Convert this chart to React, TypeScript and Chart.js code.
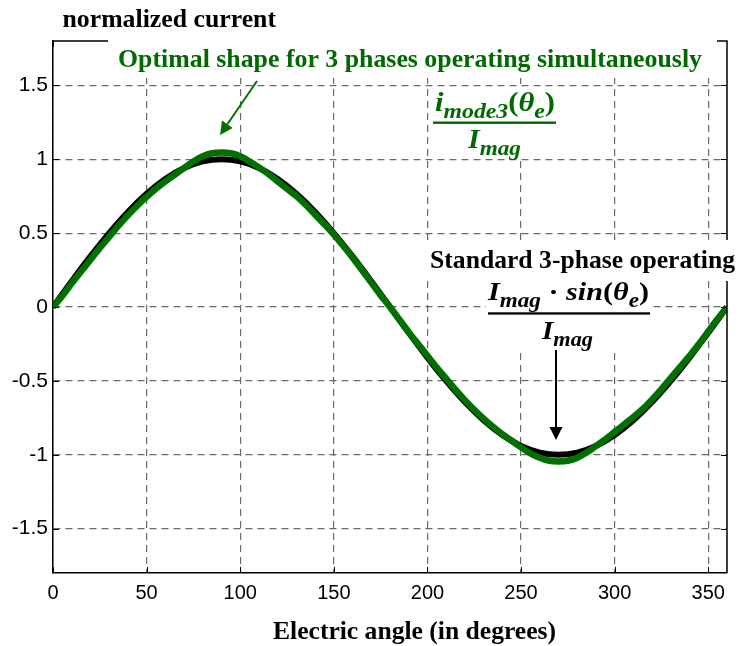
import React, { useEffect, useRef } from 'react';
import { Chart, registerables } from 'chart.js';

Chart.register(...registerables);

// ---- data ----
const standardAngles = [0, 10, 20, 30, 40, 50, 60, 70, 80, 90, 100, 110, 120, 130, 140, 150, 160, 170, 180, 190, 200, 210, 220, 230, 240, 250, 260, 270, 280, 290, 300, 310, 320, 330, 340, 350, 360];
const standardCurrent = [0, 0.174, 0.342, 0.5, 0.643, 0.766, 0.866, 0.94, 0.985, 1, 0.985, 0.94, 0.866, 0.766, 0.643, 0.5, 0.342, 0.174, 0, -0.174, -0.342, -0.5, -0.643, -0.766, -0.866, -0.94, -0.985, -1, -0.985, -0.94, -0.866, -0.766, -0.643, -0.5, -0.342, -0.174, 0];

const optimalAngles = [0, 5, 10, 15, 20, 25, 30, 35, 40, 45, 50, 55, 60, 65, 70, 75, 80, 85, 90, 95, 100, 105, 110, 115, 120, 125, 130, 135, 140, 145, 150, 155, 160, 165, 170, 175, 180, 185, 190, 195, 200, 205, 210, 215, 220, 225, 230, 235, 240, 245, 250, 255, 260, 265, 270, 275, 280, 285, 290, 295, 300, 305, 310, 315, 320, 325, 330, 335, 340, 345, 350, 355, 360];
const optimalCurrent = [0, 0.075, 0.16, 0.24, 0.32, 0.4, 0.475, 0.55, 0.62, 0.685, 0.745, 0.8, 0.85, 0.895, 0.94, 0.985, 1.02, 1.04, 1.045, 1.04, 1.02, 0.985, 0.945, 0.9, 0.85, 0.8, 0.75, 0.69, 0.625, 0.56, 0.49, 0.415, 0.335, 0.25, 0.165, 0.08, 0, -0.085, -0.17, -0.25, -0.33, -0.41, -0.485, -0.56, -0.63, -0.695, -0.755, -0.81, -0.86, -0.905, -0.95, -0.99, -1.02, -1.04, -1.045, -1.04, -1.02, -0.985, -0.94, -0.895, -0.845, -0.795, -0.745, -0.69, -0.625, -0.555, -0.48, -0.405, -0.33, -0.25, -0.165, -0.08, 0];

const xTickValues = [0, 50, 100, 150, 200, 250, 300, 350];
const yTickValues = [-1.5, -1, -0.5, 0, 0.5, 1, 1.5];

const GREEN = 'rgb(0,112,0)';
const GREEN_TEXT = 'rgb(0,105,0)';
const SERIF = '"Liberation Serif", "Times New Roman", serif';
const SANS = '"Liberation Sans", Arial, sans-serif';

type Seg = { t: string; sub?: boolean; upright?: boolean };

function fitText(ctx: CanvasRenderingContext2D, text: string, x: number, baseline: number, width: number, font: string, color: string) {
  ctx.save();
  ctx.font = font;
  ctx.fillStyle = color;
  ctx.textAlign = 'left';
  ctx.textBaseline = 'alphabetic';
  const w = ctx.measureText(text).width;
  ctx.translate(x, baseline);
  ctx.scale(width / w, 1);
  ctx.fillText(text, 0, 0);
  ctx.restore();
}

function drawMath(ctx: CanvasRenderingContext2D, segs: Seg[], x: number, baseline: number, width: number, size: number, color: string) {
  const sub = Math.round(size * 0.76);
  const fontFor = (s: Seg) => `${s.upright ? '' : 'italic '}bold ${s.sub ? sub : size}px ${SERIF}`;
  ctx.save();
  ctx.fillStyle = color;
  ctx.textAlign = 'left';
  ctx.textBaseline = 'alphabetic';
  let total = 0;
  const widths = segs.map((s) => {
    ctx.font = fontFor(s);
    const w = ctx.measureText(s.t).width;
    total += w;
    return w;
  });
  ctx.translate(x, baseline);
  ctx.scale(width / total, 1);
  let cx = 0;
  segs.forEach((s, i) => {
    ctx.font = fontFor(s);
    ctx.fillText(s.t, cx, s.sub ? size * 0.25 : 0);
    cx += widths[i];
  });
  ctx.restore();
}

function arrow(ctx: CanvasRenderingContext2D, x1: number, y1: number, x2: number, y2: number, color: string) {
  const ang = Math.atan2(y2 - y1, x2 - x1);
  const hl = 13;
  const hw = 6.5;
  const bx = x2 - hl * Math.cos(ang);
  const by = y2 - hl * Math.sin(ang);
  ctx.save();
  ctx.strokeStyle = color;
  ctx.fillStyle = color;
  ctx.lineWidth = 2;
  ctx.beginPath();
  ctx.moveTo(x1, y1);
  ctx.lineTo(bx, by);
  ctx.stroke();
  ctx.beginPath();
  ctx.moveTo(x2, y2);
  ctx.lineTo(bx + hw * Math.sin(ang), by - hw * Math.cos(ang));
  ctx.lineTo(bx - hw * Math.sin(ang), by + hw * Math.cos(ang));
  ctx.closePath();
  ctx.fill();
  ctx.restore();
}

const overlayPlugin = {
  id: 'overlay',
  afterDraw(chart: any) {
    const ctx: CanvasRenderingContext2D = chart.ctx;
    const { left, right, top, bottom } = chart.chartArea;
    const xs = chart.scales.x;
    const ys = chart.scales.y;
    ctx.save();
    // top & right border
    ctx.strokeStyle = '#000';
    ctx.lineWidth = 1.5;
    ctx.beginPath();
    ctx.moveTo(left, top);
    ctx.lineTo(right, top);
    ctx.lineTo(right, bottom);
    ctx.stroke();
    // inward ticks
    ctx.lineWidth = 1;
    const tl = 6;
    ctx.beginPath();
    xTickValues.forEach((v) => {
      const px = Math.round(xs.getPixelForValue(v)) + 0.5;
      ctx.moveTo(px, bottom);
      ctx.lineTo(px, bottom - tl);
      ctx.moveTo(px, top);
      ctx.lineTo(px, top + tl);
    });
    yTickValues.forEach((v) => {
      const py = Math.round(ys.getPixelForValue(v)) + 0.5;
      ctx.moveTo(left, py);
      ctx.lineTo(left + tl, py);
      ctx.moveTo(right, py);
      ctx.lineTo(right - tl, py);
    });
    ctx.stroke();

    // white label boxes
    ctx.fillStyle = '#fff';
    ctx.fillRect(108, 36, 609, 42);
    ctx.fillRect(431, 88, 127, 69);
    ctx.fillRect(424, 240, 316, 41);
    ctx.fillRect(486, 281, 166, 67);
    ctx.restore();

    // titles
    fitText(ctx, 'normalized current', 62.5, 27, 213.5, `bold 26px ${SERIF}`, '#000');
    fitText(ctx, 'Optimal shape for 3 phases operating simultaneously', 118, 67, 584, `bold 26px ${SERIF}`, GREEN_TEXT);
    fitText(ctx, 'Standard 3-phase operating', 430, 268, 305, `bold 26px ${SERIF}`, '#000');
    fitText(ctx, 'Electric angle (in degrees)', 273, 639, 283, `bold 26px ${SERIF}`, '#000');

    // green fraction
    drawMath(ctx, [{ t: 'i' }, { t: 'mode3', sub: true }, { t: '(', upright: true }, { t: 'θ' }, { t: 'e', sub: true }, { t: ')', upright: true }], 435, 111, 120, 27, GREEN_TEXT);
    ctx.save();
    ctx.fillStyle = GREEN_TEXT;
    ctx.fillRect(433, 121.5, 123, 2.4);
    ctx.restore();
    drawMath(ctx, [{ t: 'I' }, { t: 'mag', sub: true }], 468, 148, 53, 27, GREEN_TEXT);

    // black fraction
    drawMath(ctx, [{ t: 'I' }, { t: 'mag', sub: true }, { t: ' · ', upright: true }, { t: 'sin' }, { t: '(', upright: true }, { t: 'θ' }, { t: 'e', sub: true }, { t: ')', upright: true }], 488, 300, 161, 26, '#000');
    ctx.save();
    ctx.fillStyle = '#000';
    ctx.fillRect(488, 312.3, 162, 2.3);
    ctx.restore();
    drawMath(ctx, [{ t: 'I' }, { t: 'mag', sub: true }], 542, 339, 51, 26, '#000');

    // arrows
    arrow(ctx, 257, 81, 220, 135, GREEN);
    arrow(ctx, 556, 350, 556, 440, '#000');
  },
};

export default function App() {
  const canvasRef = useRef<HTMLCanvasElement | null>(null);

  useEffect(() => {
    const canvas = canvasRef.current;
    if (!canvas) return;
    const chart = new Chart(canvas, {
      type: 'line',
      data: {
        datasets: [
          {
            label: 'optimal',
            data: optimalAngles.map((a, i) => ({ x: a, y: optimalCurrent[i] })),
            borderColor: GREEN,
            borderWidth: 6.5,
            pointRadius: 0,
            tension: 0.3,
            fill: false,
          },
          {
            label: 'standard',
            data: standardAngles.map((a, i) => ({ x: a, y: standardCurrent[i] })),
            borderColor: '#000',
            borderWidth: 6,
            pointRadius: 0,
            tension: 0.4,
            fill: false,
          },
        ],
      },
      options: {
        responsive: false,
        animation: false,
        events: [],
        layout: { padding: { top: 41, right: 13, left: 0, bottom: 0 } },
        plugins: { legend: { display: false }, tooltip: { enabled: false }, title: { display: false } },
        scales: {
          x: {
            type: 'linear',
            min: 0,
            max: 360,
            afterBuildTicks: (s: any) => {
              s.ticks = xTickValues.map((v) => ({ value: v }));
            },
            afterFit: (s: any) => {
              s.height = 73;
            },
            ticks: {
              color: '#000',
              font: { family: SANS, size: 20 },
              padding: 8,
              maxRotation: 0,
              autoSkip: false,
              callback: (v: any) => String(v),
            },
            grid: { color: '#6a6a6a', lineWidth: 1.2, drawTicks: false },
            border: { display: true, color: '#000', width: 1.5, dash: [7, 5] },
          },
          y: {
            type: 'linear',
            min: -1.8,
            max: 1.8,
            afterBuildTicks: (s: any) => {
              s.ticks = yTickValues.map((v) => ({ value: v }));
            },
            afterFit: (s: any) => {
              s.width = 53;
            },
            ticks: {
              color: '#000',
              font: { family: SANS, size: 21 },
              padding: 5,
              autoSkip: false,
              callback: (v: any) => String(v),
            },
            grid: { color: '#6a6a6a', lineWidth: 1.2, drawTicks: false },
            border: { display: true, color: '#000', width: 1.5, dash: [7, 5] },
          },
        },
      },
      plugins: [overlayPlugin],
    } as any);
    return () => chart.destroy();
  }, []);

  return (
    <div style={{ position: 'absolute', left: 0, top: 0, width: 740, height: 646, background: '#fff' }}>
      <canvas ref={canvasRef} width={740} height={646} style={{ display: 'block' }} />
    </div>
  );
}
